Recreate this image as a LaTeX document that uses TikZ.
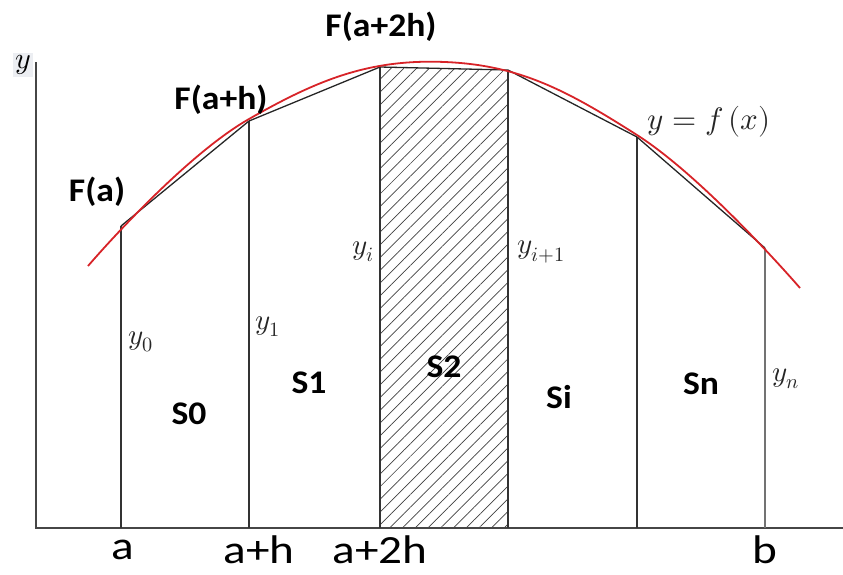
\documentclass[tikz,border=0pt]{standalone}
\usepackage{fontspec}
\usepackage{unicode-math}
\setmainfont{Carlito}
\setmathfont{latinmodern-math.otf}
\usetikzlibrary{patterns.meta}
\definecolor{axisgray}{RGB}{70,70,70}
\definecolor{curvered}{RGB}{215,35,40}
\definecolor{ybg}{RGB}{236,238,242}
\tikzset{
  axisline/.style={draw=axisgray, line width=2pt},
  ordinate/.style={draw=black!80, line width=1.3pt},
  chord/.style={draw=black!85, line width=1.3pt},
  boldlab/.style={font=\fontsize{33}{36}\selectfont\bfseries, inner sep=0pt, xscale=1.08},
  tlab/.style={font=\fontsize{29}{32}\selectfont, inner sep=0pt, text=black!85},
  xlab/.style={font=\fontsize{40}{44}\selectfont, inner sep=0pt, xscale=1.18},
}
\begin{document}
\begin{tikzpicture}[x=1pt,y=-1pt]
\useasboundingbox (0,0) rectangle (843,574);
% hatched strip
\fill[pattern={Lines[angle=45,distance=9pt,line width=0.7pt]}, pattern color=black!75] (380,67) -- (508,70) -- (508,528) -- (380,528) -- cycle;
% axes
\coordinate (O) at (36,528);
\coordinate (Ytop) at (36,62);
\coordinate (Xend) at (843,528);
\draw[axisline] (Ytop) -- (O) -- (Xend);
% points on curve
\coordinate (P0) at (121,226);
\coordinate (P1) at (249,121);
\coordinate (P2) at (380,67);
\coordinate (P3) at (508,70);
\coordinate (P4) at (637,137);
\coordinate (P5) at (765,248);
\coordinate (B0) at (121,528);
\coordinate (B1) at (249,528);
\coordinate (B2) at (380,528);
\coordinate (B3) at (508,528);
\coordinate (B4) at (637,528);
\coordinate (B5) at (765,528);
\draw[ordinate] (P0) -- (B0);
\draw[ordinate] (P1) -- (B1);
\draw[ordinate] (P2) -- (B2);
\draw[ordinate] (P3) -- (B3);
\draw[ordinate] (P4) -- (B4);
\draw[ordinate, draw=black!55] (P5) -- (B5);
\draw[chord] (P0) -- (P1) -- (P2) -- (P3) -- (P4) -- (P5);
% curve
\draw[curvered, line width=1.8pt] plot[smooth, tension=0.7] coordinates {(88,266) (249,119) (445,62) (637,135) (800,288)};
% labels
\node[fill=ybg, inner sep=2pt, font=\fontsize{30}{32}\selectfont] (ylab) at (23,65) {$y$};
\node[boldlab] (Fa) at (97,192) {F(a)};
\node[boldlab] (Fah) at (221,100) {F(a+h)};
\node[boldlab] (Fa2h) at (381,27) {F(a+2h)};
\node[font=\fontsize{31}{34}\selectfont, inner sep=0pt, text=black!85] (yfx) at (709,122) {$y = f\,(x)$};
\node[tlab] (yi) at (363,252) {$y_i$};
\node[tlab] (yi1) at (541,252) {$y_{i+1}$};
\node[tlab] (y0) at (141,342) {$y_0$};
\node[tlab] (y1) at (268,327) {$y_1$};
\node[tlab] (yn) at (786,379) {$y_n$};
\node[boldlab] (S0) at (189,414) {S0};
\node[boldlab] (S1) at (309,383) {S1};
\node[boldlab] (S2) at (444,367) {S2};
\node[boldlab] (Si) at (559,397) {Si};
\node[boldlab] (Sn) at (701,384) {Sn};
\node[xlab] (la) at (123,550) {a};
\node[xlab] (lah) at (259,550) {a+h};
\node[xlab] (la2h) at (380,550) {a+2h};
\node[xlab] (lb) at (765,550) {b};
\end{tikzpicture}
\end{document}
